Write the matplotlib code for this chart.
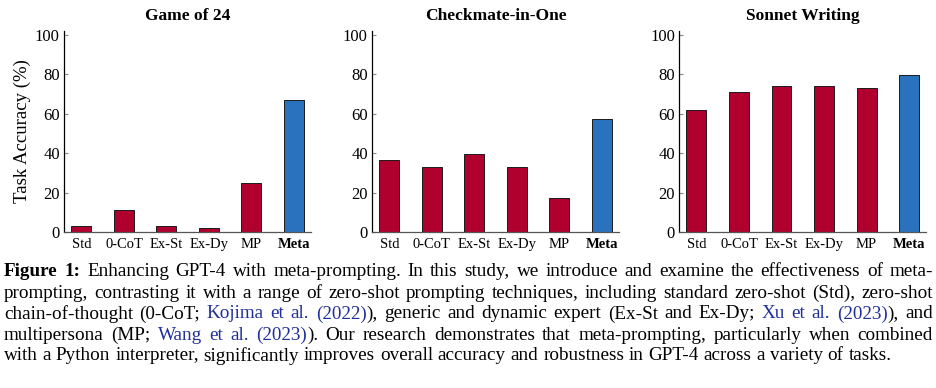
import matplotlib
matplotlib.use("Agg")
import matplotlib.pyplot as plt

# Data
methods = ["Std", "0-CoT", "Ex-St", "Ex-Dy", "MP", "Meta"]
tasks = ["Game of 24", "Checkmate-in-One", "Sonnet Writing"]
game24 = [3, 11, 3, 2, 25, 67]
checkmate = [36.4, 32.8, 39.6, 33.2, 17.2, 57.2]
sonnet = [62, 71.2, 74, 74, 73.2, 79.6]
yticks = [0, 20, 40, 60, 80, 100]

RED = "#B0002E"
BLUE = "#2A72BE"
SERIF = ["Liberation Serif", "DejaVu Serif"]

plt.rcParams["font.family"] = SERIF

fig = plt.figure(figsize=(9.37, 3.88), dpi=100)

lefts = [0.0683, 0.397, 0.7247]
for i, (title, vals) in enumerate(zip(tasks, [game24, checkmate, sonnet])):
    ax = fig.add_axes([lefts[i], 0.402, 0.2636, 0.518])
    colors = [RED] * 5 + [BLUE]
    ax.bar(range(len(methods)), vals, width=0.47, color=colors,
           edgecolor="#1a1a1a", linewidth=0.7)
    ax.set_xlim(-0.41, 5.4)
    ax.set_ylim(0, 102)
    ax.set_yticks(yticks)
    ax.set_xticks(range(len(methods)))
    ax.set_xticklabels(methods, fontsize=10.5)
    ax.get_xticklabels()[-1].set_fontweight("bold")
    ax.tick_params(axis="x", length=0, pad=4)
    ax.tick_params(axis="y", direction="in", length=3, color="#888888",
                   labelsize=12, pad=3)
    ax.spines["top"].set_visible(False)
    ax.spines["right"].set_visible(False)
    ax.spines["left"].set_color("black")
    ax.spines["bottom"].set_color("#555555")
    ax.spines["left"].set_linewidth(0.9)
    ax.spines["bottom"].set_linewidth(0.9)
    ax.set_title(title, fontsize=12.5, fontweight="bold", pad=8)
    if i == 0:
        ax.set_ylabel("Task Accuracy (%)", fontsize=13.5, labelpad=3)

# Caption, drawn word by word so the lines can be justified
LINK = "#1F2F9A"
caption = [
    [("Figure 1:", "k", "bold"), (" Enhancing GPT-4 with meta-prompting. In this study, we introduce and examine the effectiveness of meta-", "k", "normal")],
    [("prompting, contrasting it with a range of zero-shot prompting techniques, including standard zero-shot (Std), zero-shot", "k", "normal")],
    [("chain-of-thought (0-CoT; ", "k", "normal"), ("Kojima et al. (2022)", LINK, "normal"), ("), generic and dynamic expert (Ex-St and Ex-Dy; ", "k", "normal"), ("Xu et al. (2023)", LINK, "normal"), ("), and", "k", "normal")],
    [("multipersona (MP; ", "k", "normal"), ("Wang et al. (2023)", LINK, "normal"), ("). Our research demonstrates that meta-prompting, particularly when combined", "k", "normal")],
    [("with a Python interpreter, significantly improves overall accuracy and robustness in GPT-4 across a variety of tasks.", "k", "normal")],
]

renderer = fig.canvas.get_renderer()
W, H = fig.get_size_inches() * fig.dpi
x0, x1 = 4, 933
y_first = 272
line_gap = 21
fs = 13.8

for li, segs in enumerate(caption):
    # break segments into words, remembering whether a space comes before
    words = []
    pending_space = False
    for text, col, wt in segs:
        parts = text.split(" ")
        for pi, p in enumerate(parts):
            if pi > 0:
                pending_space = True
            if p == "":
                continue
            words.append([p, col, wt, pending_space])
            pending_space = False
    words[0][3] = False
    y = 1 - (y_first + li * line_gap) / H
    artists = []
    for w, col, wt, sp in words:
        t = fig.text(0, y, w, color=col, fontweight=wt, fontsize=fs,
                     va="center", ha="left")
        artists.append(t)
    widths = [a.get_window_extent(renderer).width for a in artists]
    n_gaps = sum(1 for w in words if w[3])
    last = li == len(caption) - 1
    space_w = fs * 0.25 * fig.dpi / 72
    if not last and n_gaps > 0:
        gap = (x1 - x0 - sum(widths)) / n_gaps
    else:
        gap = space_w
    x = x0
    for a, wd, w in zip(artists, widths, words):
        if w[3]:
            x += gap
        a.set_x(x / W)
        x += wd

fig.savefig("out.png", dpi=100)
